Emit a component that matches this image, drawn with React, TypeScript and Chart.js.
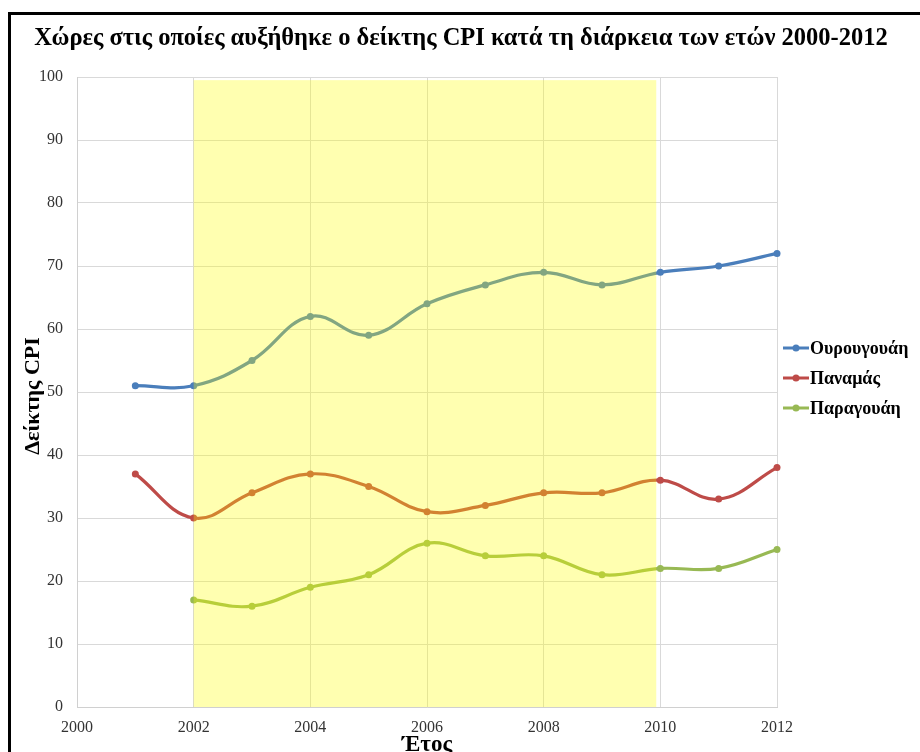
import React, { useEffect, useRef } from "react";
import { Chart, registerables } from "chart.js";

Chart.register(...registerables);

// ---- Data ----
const years = [2001, 2002, 2003, 2004, 2005, 2006, 2007, 2008, 2009, 2010, 2011, 2012];
const uruguay = [51, 51, 55, 62, 59, 64, 67, 69, 67, 69, 70, 72];
const panama = [37, 30, 34, 37, 35, 31, 32, 34, 34, 36, 33, 38];
const paraguay = [null, 17, 16, 19, 21, 26, 24, 24, 21, 22, 22, 25];
const seriesNames = ["Ουρουγουάη", "Παναμάς", "Παραγουάη"];
const seriesColors = ["#4A7EBB", "#BE4B48", "#98B954"];
const bandRange = [2002, 2009.93];
const bandTop = 99.5;
const titleText = "Χώρες στις οποίες αυξήθηκε ο δείκτης CPI κατά τη διάρκεια των ετών 2000-2012";
const yTitle = "Δείκτης CPI";
const xTitle = "Έτος";
const xRange = [2000, 2012];
const yRange = [0, 100];

const SERIF = '"Liberation Serif", "Times New Roman", serif';

function toPoints(vals: (number | null)[]) {
  return years.map((y, i) => ({ x: y, y: vals[i] }));
}

const overlayPlugin = {
  id: "overlay",
  afterDatasetsDraw(chart: any) {
    const { ctx, scales } = chart;
    const x = scales.x;
    const y = scales.y;
    const x0 = x.getPixelForValue(bandRange[0]);
    const x1 = x.getPixelForValue(bandRange[1]);
    const y0 = y.getPixelForValue(bandTop);
    const y1 = y.getPixelForValue(0);
    ctx.save();
    ctx.fillStyle = "rgba(255, 255, 0, 0.31)";
    ctx.fillRect(x0, y0, x1 - x0, y1 - y0);
    ctx.restore();
  },
  afterDraw(chart: any) {
    const { ctx, chartArea } = chart;
    ctx.save();
    // Title
    ctx.fillStyle = "#000";
    ctx.font = `bold 24.5px ${SERIF}`;
    ctx.textAlign = "center";
    ctx.textBaseline = "middle";
    ctx.fillText(titleText, 461, 39);

    // Y title
    ctx.save();
    ctx.translate(33, (chartArea.top + chartArea.bottom) / 2 + 4);
    ctx.rotate(-Math.PI / 2);
    ctx.font = `bold 22px ${SERIF}`;
    ctx.fillText(yTitle, 0, 0);
    ctx.restore();

    // X title
    ctx.font = `bold 23px ${SERIF}`;
    ctx.textBaseline = "alphabetic";
    ctx.fillText(xTitle, (chartArea.left + chartArea.right) / 2, 751);

    // Legend
    ctx.font = `bold 18px ${SERIF}`;
    ctx.textAlign = "left";
    ctx.textBaseline = "middle";
    chart.data.datasets.forEach((ds: any, i: number) => {
      const cy = 348 + i * 30;
      ctx.strokeStyle = ds.borderColor;
      ctx.lineWidth = 3;
      ctx.beginPath();
      ctx.moveTo(783, cy);
      ctx.lineTo(809, cy);
      ctx.stroke();
      ctx.fillStyle = ds.borderColor;
      ctx.beginPath();
      ctx.arc(796, cy, 3.5, 0, Math.PI * 2);
      ctx.fill();
      ctx.fillStyle = "#000";
      ctx.fillText(ds.label, 810, cy + 1);
    });
    ctx.restore();
  },
};

export default function App() {
  const ref = useRef<HTMLCanvasElement | null>(null);

  useEffect(() => {
    document.body.style.overflow = "hidden";
    const canvas = ref.current;
    if (!canvas) return;
    const seriesVals = [uruguay, panama, paraguay];
    const chart = new Chart(canvas, {
      type: "line",
      data: {
        datasets: seriesVals.map((vals, i) => ({
          label: seriesNames[i],
          data: toPoints(vals as (number | null)[]),
          borderColor: seriesColors[i],
          backgroundColor: seriesColors[i],
          pointBackgroundColor: seriesColors[i],
          pointBorderColor: seriesColors[i],
          pointRadius: 3.5,
          pointBorderWidth: 0,
          borderWidth: 3.2,
          tension: 0.4,
          fill: false,
          spanGaps: false,
          clip: false,
        })),
      },
      options: {
        animation: false,
        responsive: false,
        maintainAspectRatio: false,
        layout: { padding: { top: 77, right: 143, left: 0, bottom: 0 } },
        plugins: {
          legend: { display: false },
          title: { display: false },
          tooltip: { enabled: false },
        },
        scales: {
          x: {
            type: "linear",
            min: xRange[0],
            max: xRange[1],
            afterFit: (s: any) => {
              s.height = 45;
            },
            ticks: {
              stepSize: 2,
              padding: 11,
              color: "#333",
              font: { family: SERIF, size: 16 },
              callback: (v: any) => String(v),
              maxRotation: 0,
            },
            grid: { color: "#D9D9D9", lineWidth: 1, drawTicks: false },
            border: { color: "#D0D0D0", width: 1 },
          },
          y: {
            min: yRange[0],
            max: yRange[1],
            afterFit: (s: any) => {
              s.width = 77;
            },
            ticks: {
              stepSize: 10,
              padding: 14,
              color: "#333",
              font: { family: SERIF, size: 16 },
            },
            grid: { color: "#D9D9D9", lineWidth: 1, drawTicks: false },
            border: { color: "#D0D0D0", width: 1 },
          },
        },
      },
      plugins: [overlayPlugin],
    } as any);
    return () => chart.destroy();
  }, []);

  return (
    <div
      style={{
        position: "fixed",
        left: 0,
        top: 0,
        width: 920,
        height: 752,
        overflow: "hidden",
        background: "#fff",
      }}
    >
      <div
        style={{
          position: "absolute",
          left: 8,
          top: 12,
          width: 930,
          height: 800,
          border: "3px solid #000",
          boxSizing: "border-box",
        }}
      />
      <canvas
        ref={ref}
        width={920}
        height={752}
        style={{ position: "absolute", left: 0, top: 0, width: 920, height: 752 }}
      />
    </div>
  );
}
